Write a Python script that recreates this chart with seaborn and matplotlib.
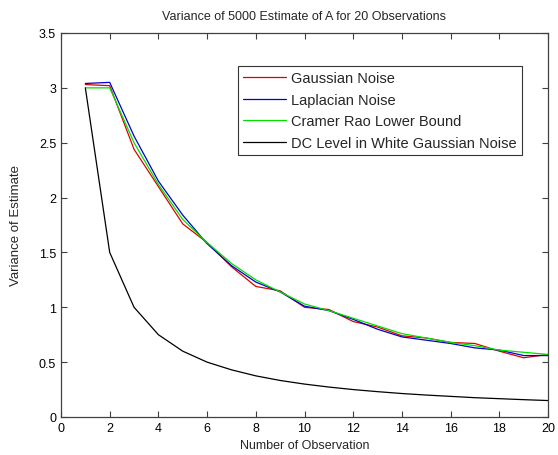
import pandas as pd
import seaborn as sns
import matplotlib.pyplot as plt


# =========================
# data
# =========================

n_obs = list(range(1, 21))

gaussian = [3.03, 3.02, 2.44, 2.10, 1.76, 1.59, 1.37, 1.19, 1.15, 1.00,
            0.98, 0.87, 0.82, 0.74, 0.72, 0.68, 0.67, 0.60, 0.54, 0.57]
laplacian = [3.04, 3.05, 2.56, 2.15, 1.84, 1.58, 1.38, 1.23, 1.14, 1.01,
             0.97, 0.89, 0.80, 0.73, 0.70, 0.67, 0.63, 0.61, 0.56, 0.56]
crlb = [3.00, 3.00, 2.50, 2.12, 1.80, 1.59, 1.40, 1.25, 1.14, 1.03,
        0.97, 0.90, 0.83, 0.76, 0.72, 0.68, 0.65, 0.61, 0.59, 0.57]
dc_level = [3.0, 1.5, 1.0, 0.75, 0.6, 0.5, 0.43, 0.375, 0.333, 0.3,
            0.273, 0.25, 0.231, 0.214, 0.2, 0.188, 0.176, 0.167, 0.158, 0.15]

series_names = ["Gaussian Noise", "Laplacian Noise",
                "Cramer Rao Lower Bound", "DC Level in White Gaussian Noise"]
series_colors = ["#e00000", "#0000d0", "#00e000", "#000000"]


# =========================
# long-form table
# =========================

frames = []
for name, vals in zip(series_names, [gaussian, laplacian, crlb, dc_level]):
    frames.append(pd.DataFrame({"N": n_obs, "var": vals, "series": name}))
df = pd.concat(frames, ignore_index=True)


# =========================
# plot
# =========================

sns.set_style("white")
plt.rcParams['font.family'] = ['Liberation Sans', 'DejaVu Sans']

fig = plt.figure(figsize=(5.58, 4.56), dpi=100)
ax = fig.add_axes([61 / 558, 1 - 418 / 456, 487 / 558, 384 / 456])

sns.lineplot(
    data=df, x="N", y="var", hue="series",
    hue_order=series_names, palette=series_colors,
    linewidth=0.9, ax=ax, legend=True
)

ax.set_xlim(0, 20)
ax.set_ylim(0, 3.5)
ax.set_xticks(range(0, 21, 2))
ax.set_yticks([0, 0.5, 1, 1.5, 2, 2.5, 3, 3.5])
ax.set_yticklabels(["0", "0.5", "1", "1.5", "2", "2.5", "3", "3.5"])

ax.tick_params(direction="in", length=4, width=0.8, colors="#404040",
               labelcolor="black", labelsize=9,
               top=True, right=True, bottom=True, left=True)
for sp in ax.spines.values():
    sp.set_color("#404040")
    sp.set_linewidth(0.9)

ax.set_title("Variance of 5000 Estimate of A for 20 Observations",
             fontsize=9, pad=10)
ax.set_xlabel("Number of Observation", fontsize=9, labelpad=4)
ax.set_ylabel("Variance of Estimate", fontsize=9.5, labelpad=12)

leg = ax.legend(loc="upper right", bbox_to_anchor=(0.947, 0.914),
                fontsize=10.5, frameon=True, fancybox=False,
                edgecolor="black", handlelength=3.0, handletextpad=0.35,
                labelspacing=0.52, borderpad=0.35, borderaxespad=0)
leg.get_frame().set_linewidth(0.8)

fig.savefig("out.png", dpi=100, facecolor="white")
